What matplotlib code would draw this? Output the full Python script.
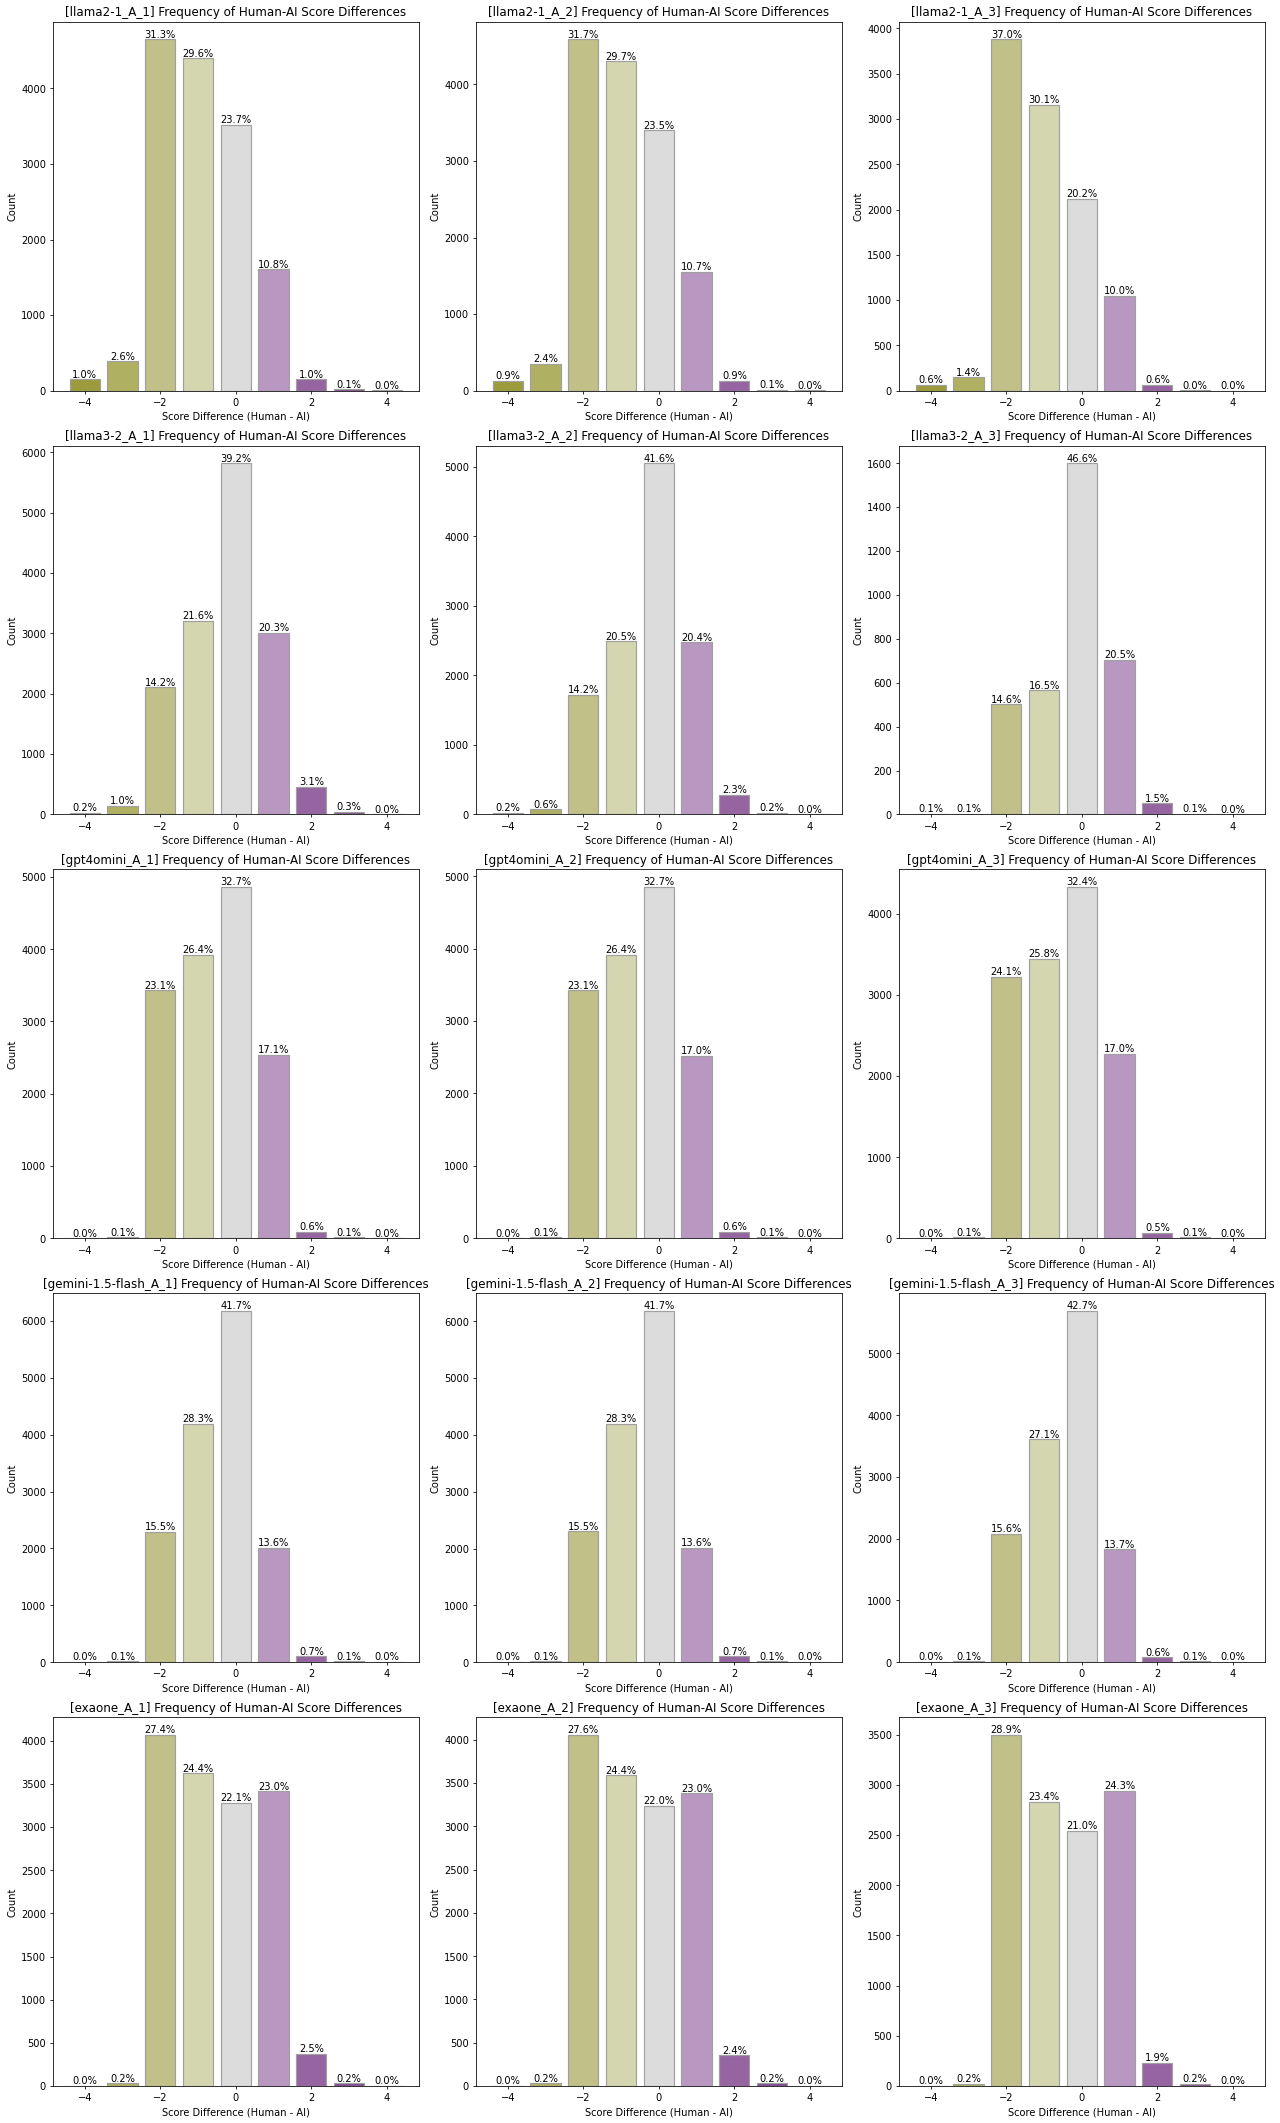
import matplotlib
matplotlib.use("Agg")
import matplotlib.pyplot as plt
import numpy as np

# score difference bins (Human - AI)
diffs = [-4, -3, -2, -1, 0, 1, 2, 3, 4]

models = ["llama2-1", "llama3-2", "gpt4omini", "gemini-1.5-flash", "exaone"]
annotators = ["A_1", "A_2", "A_3"]

# counts per bin
llama2_counts = [
    [149, 386, 4651, 4399, 3522, 1605, 149, 15, 3],
    [130, 348, 4590, 4300, 3403, 1549, 130, 14, 2],
    [63, 147, 3880, 3156, 2118, 1049, 63, 4, 1],
]
llama3_counts = [
    [30, 148, 2108, 3207, 5820, 3014, 460, 45, 3],
    [24, 73, 1724, 2490, 5050, 2477, 279, 24, 2],
    [4, 3, 501, 566, 1600, 704, 51, 4, 1],
]
gpt4omini_counts = [
    [2, 15, 3433, 3924, 4860, 2541, 89, 15, 1],
    [2, 15, 3426, 3915, 4850, 2521, 89, 15, 1],
    [2, 13, 3221, 3448, 4330, 2272, 67, 13, 1],
]
gemini_counts = [
    [3, 15, 2297, 4194, 6180, 2016, 104, 15, 2],
    [3, 15, 2300, 4195, 6182, 2013, 103, 15, 2],
    [3, 13, 2079, 3611, 5690, 1826, 80, 13, 2],
]
exaone_counts = [
    [2, 30, 4070, 3624, 3283, 3416, 371, 30, 2],
    [3, 32, 4056, 3586, 3234, 3381, 357, 32, 3],
    [2, 24, 3500, 2834, 2543, 2943, 230, 24, 1],
]
all_counts = [llama2_counts, llama3_counts, gpt4omini_counts, gemini_counts, exaone_counts]

# olive -> grey -> purple
bar_colors = ["#9c9c3c", "#b0b062", "#c0c088", "#d4d6b0", "#dcdcdc",
              "#b898c0", "#9664a0", "#7e4a8e", "#6a3a7a"]

fig, axes = plt.subplots(5, 3, figsize=(18, 29.86))

for i, model in enumerate(models):
    for j, ann in enumerate(annotators):
        ax = axes[i, j]
        counts = np.array(all_counts[i][j])
        total = counts.sum()
        bars = ax.bar(diffs, counts, width=0.8, color=bar_colors,
                      edgecolor="#a0a0a0", linewidth=1.2)
        for b, c in zip(bars, counts):
            ax.text(b.get_x() + b.get_width() / 2, b.get_height(),
                    f"{c / total * 100:.1f}%", ha="center", va="bottom", fontsize=10)
        ax.set_title(f"[{model}_{ann}] Frequency of Human-AI Score Differences", fontsize=12)
        ax.set_xlabel("Score Difference (Human - AI)")
        ax.set_ylabel("Count")

plt.subplots_adjust(left=0.0414, right=0.988, top=0.9896, bottom=0.0174,
                    wspace=0.157, hspace=0.149)
plt.savefig("out.png", dpi=1280 / 18)
